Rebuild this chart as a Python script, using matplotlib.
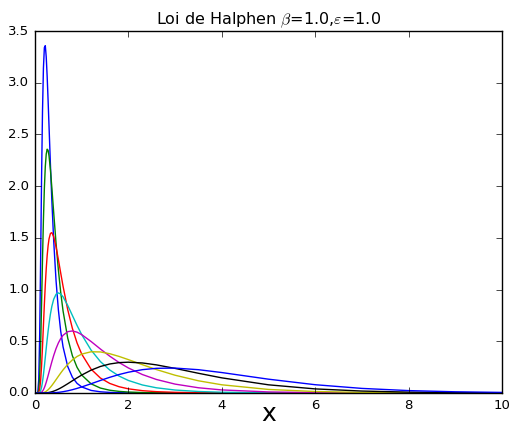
import matplotlib
matplotlib.use("Agg")
import matplotlib.pyplot as plt

plt.style.use('classic')

x = [0.0, 0.04, 0.06, 0.08, 0.10, 0.12, 0.14, 0.16, 0.18, 0.20, 0.22, 0.24, 0.26, 0.28,
     0.30, 0.33, 0.36, 0.40, 0.45, 0.50, 0.55, 0.60, 0.70, 0.80, 0.90, 1.0, 1.2, 1.4,
     1.6, 1.8, 2.0, 2.3, 2.6, 3.0, 3.5, 4.0, 5.0, 6.0, 7.0, 8.0, 9.0, 10.0]

nu_m35 = [0, 0, 0.0074, 0.1286, 0.5627, 1.2854, 2.0707, 2.7180, 3.1403, 3.3393, 3.3583,
          3.2500, 3.0615, 2.8298, 2.5801, 2.2076, 1.8644, 1.4719, 1.0880, 0.8045, 0.5977,
          0.4472, 0.2566, 0.1522, 0.0931, 0.0586, 0.0250, 0.0115, 0.0057, 0.0029, 0.0016,
          0.0007, 0.0003, 0.0001, 0, 0, 0, 0, 0, 0, 0, 0]
nu_m25 = [0, 0, 0.0013, 0.0305, 0.1666, 0.4569, 0.8586, 1.2879, 1.6740, 1.9780, 2.1879,
          2.3099, 2.3574, 2.3465, 2.2922, 2.1574, 1.9876, 1.7437, 1.4500, 1.1913, 0.9736,
          0.7947, 0.5319, 0.3606, 0.2482, 0.1736, 0.0887, 0.0477, 0.0268, 0.0156, 0.0093,
          0.0045, 0.0023, 0.0010, 0.0004, 0.0001, 0, 0, 0, 0, 0, 0]
nu_m15 = [0, 0, 0.0002, 0.0053, 0.0361, 0.1188, 0.2604, 0.4465, 0.6528, 0.8571, 1.0429,
          1.2012, 1.3280, 1.4236, 1.4900, 1.5427, 1.5504, 1.5112, 1.4137, 1.2905, 1.1602,
          1.0331, 0.8068, 0.6250, 0.4841, 0.3761, 0.2306, 0.1447, 0.0927, 0.0606, 0.0403,
          0.0225, 0.0129, 0.0064, 0.0028, 0.0012, 0.0003, 0, 0, 0, 0, 0]
nu_m05 = [0, 0, 0, 0.0006, 0.0054, 0.0214, 0.0547, 0.1071, 0.1763, 0.2571, 0.3442,
          0.4324, 0.5179, 0.5979, 0.6705, 0.7636, 0.8372, 0.9067, 0.9543, 0.9679, 0.9572,
          0.9298, 0.8471, 0.7500, 0.6535, 0.5642, 0.4151, 0.3038, 0.2226, 0.1637, 0.1210,
          0.0776, 0.0503, 0.0286, 0.0145, 0.0074, 0.0021, 0.0006, 0.0002, 0, 0, 0]
nu_p05 = [0, 0, 0, 0.0001, 0.0005, 0.0026, 0.0077, 0.0172, 0.0317, 0.0514, 0.0757,
          0.1038, 0.1347, 0.1674, 0.2011, 0.2520, 0.3014, 0.3627, 0.4294, 0.4839, 0.5264,
          0.5579, 0.5930, 0.6000, 0.5881, 0.5642, 0.4981, 0.4253, 0.3562, 0.2947, 0.2419,
          0.1784, 0.1307, 0.0859, 0.0506, 0.0297, 0.0103, 0.0036, 0.0012, 0.0004, 0.0002, 0]
nu_p15 = [0, 0, 0, 0, 0, 0.0002, 0.0007, 0.0018, 0.0038, 0.0069, 0.0111,
          0.0166, 0.0233, 0.0313, 0.0402, 0.0554, 0.0723, 0.0967, 0.1288, 0.1613, 0.1930,
          0.2231, 0.2767, 0.3200, 0.3529, 0.3761, 0.3985, 0.3970, 0.3799, 0.3536, 0.3226,
          0.2736, 0.2266, 0.1717, 0.1180, 0.0793, 0.0343, 0.0143, 0.0058, 0.0023, 0.0009, 0.0004]
nu_p25 = [0, 0, 0, 0, 0, 0, 0.0001, 0.0001, 0.0003, 0.0006, 0.0011,
          0.0018, 0.0028, 0.0040, 0.0056, 0.0085, 0.0120, 0.0179, 0.0268, 0.0372, 0.0490,
          0.0618, 0.0894, 0.1181, 0.1466, 0.1736, 0.2207, 0.2565, 0.2805, 0.2938, 0.2978,
          0.2904, 0.2719, 0.2378, 0.1906, 0.1464, 0.0791, 0.0396, 0.0188, 0.0086, 0.0038, 0.0017]
nu_p35 = [0, 0, 0, 0, 0, 0, 0, 0, 0, 0, 0,
          0, 0, 0, 0.0006, 0.0009, 0.0015, 0.0024, 0.0041, 0.0063, 0.0091,
          0.0125, 0.0211, 0.0319, 0.0445, 0.0586, 0.0894, 0.1213, 0.1516, 0.1786, 0.2011,
          0.2256, 0.2387, 0.2408, 0.2253, 0.1977, 0.1336, 0.0801, 0.0444, 0.0232, 0.0116, 0.0056]

series = [nu_m35, nu_m25, nu_m15, nu_m05, nu_p05, nu_p15, nu_p25, nu_p35]
colors = ['b', 'g', 'r', 'c', 'm', 'y', 'k', 'b']

title = r'Loi de Halphen $\beta$=1.0,$\varepsilon$=1.0'
xticks = [0, 2, 4, 6, 8, 10]
yticks = [0.0, 0.5, 1.0, 1.5, 2.0, 2.5, 3.0, 3.5]

fig = plt.figure(figsize=(5.09, 4.25), dpi=100, facecolor='white')
ax = fig.add_axes([0.0688, 0.0753, 0.9174, 0.8517])
for ys, c in zip(series, colors):
    ax.plot(x, ys, color=c, linewidth=1.0)

ax.set_xlim(0, 10)
ax.set_ylim(0, 3.5)
ax.set_xticks(xticks)
ax.set_xticklabels([str(t) for t in xticks])
ax.set_yticks(yticks)
ax.set_yticklabels(['%.1f' % t for t in yticks])
ax.tick_params(labelsize=9.5)
ax.set_title(title, fontsize=11.5)
ax.set_xlabel('x', fontsize=18, labelpad=-7)

fig.savefig('out.png', dpi=100, facecolor='white')
